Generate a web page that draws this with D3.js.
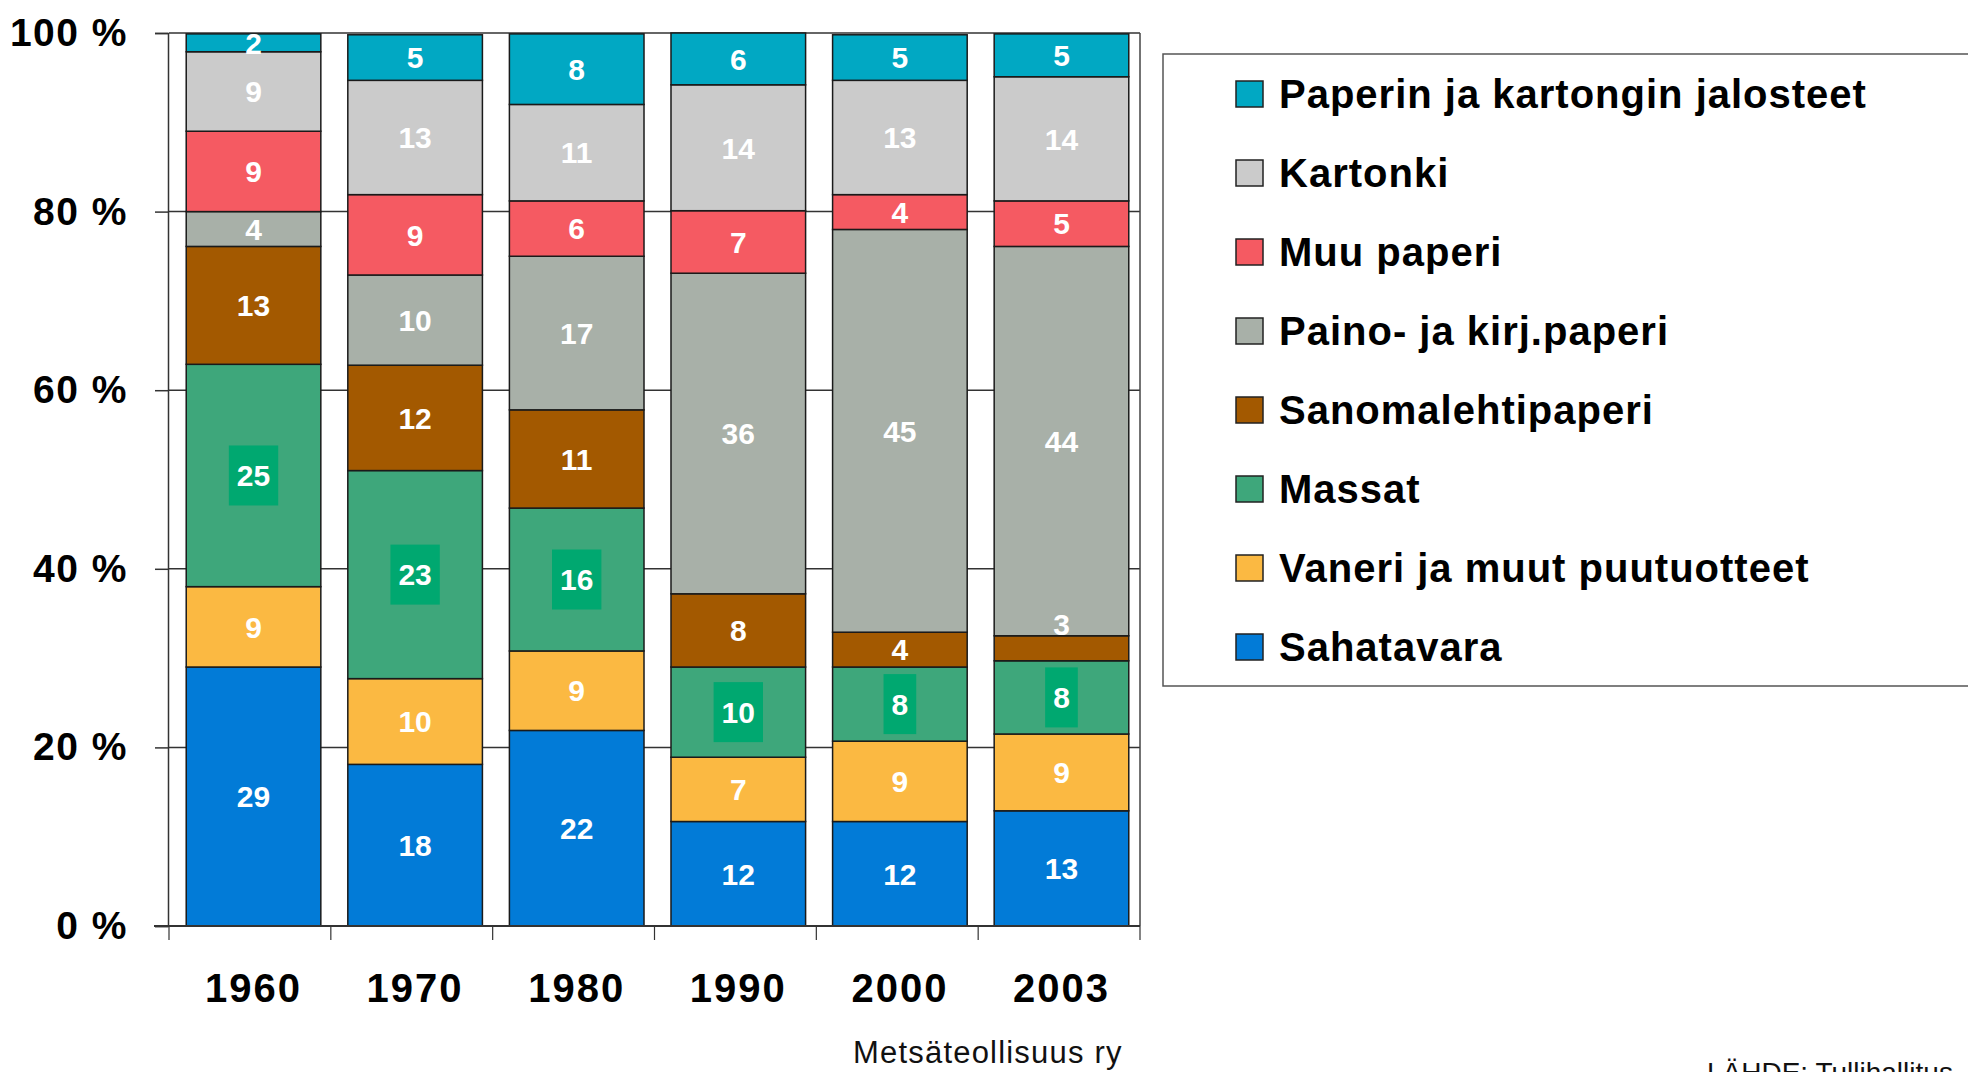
<!DOCTYPE html>
<html>
<head>
<meta charset="utf-8">
<script src="https://cdn.jsdelivr.net/npm/d3@7"></script>
<style>
  body { margin: 0; background: #fff; }
  svg { display: block; font-family: "Liberation Sans", Arial, sans-serif; }
</style>
</head>
<body>
<svg id="chart" width="1968" height="1072"></svg>
<script>
// --- data (shares in %) ---
const years = ["1960", "1970", "1980", "1990", "2000", "2003"];
const seriesNames = [
    "Sahatavara",
    "Vaneri ja muut puutuotteet",
    "Massat",
    "Sanomalehtipaperi",
    "Paino- ja kirj.paperi",
    "Muu paperi",
    "Kartonki",
    "Paperin ja kartongin jalosteet"
];
const sahatavara  = [29.0, 18.1, 21.9, 11.7, 11.7, 12.9];
const vaneri      = [9.0, 9.6, 8.9, 7.2, 9.0, 8.6];
const massat      = [24.9, 23.3, 16.0, 10.1, 8.3, 8.2];
const sanomalehti = [13.2, 11.8, 11.0, 8.2, 3.9, 2.8];
const paino       = [3.9, 10.1, 17.2, 35.9, 45.1, 43.6];
const muuPaperi   = [9.0, 9.0, 6.2, 7.0, 3.9, 5.1];
const kartonki    = [8.9, 12.8, 10.8, 14.1, 12.8, 13.9];
const jalosteet   = [2.0, 5.1, 7.9, 5.8, 5.1, 4.8];
const yTicks = [0, 20, 40, 60, 80, 100];

const colors = ["#027bd7", "#fbb942", "#3ea77b", "#a35900", "#a8b0a8", "#f55a62", "#cbcbcb", "#01a8c3"];

// build table for d3.stack
const seriesValues = [sahatavara, vaneri, massat, sanomalehti, paino, muuPaperi, kartonki, jalosteet];
const table = years.map((yr, i) => {
    const row = { year: yr };
    seriesNames.forEach((s, j) => row[s] = seriesValues[j][i]);
    return row;
});

const svg = d3.select("#chart");
const plotLeft = 169, plotRight = 1140, plotTop = 33, plotBottom = 926;

// bars sit a touch right of the category cells in the original
const x = d3.scaleBand().domain(years).range([plotLeft + 3, plotRight + 3]).paddingInner(0.167).paddingOuter(0.088);
const xEdge = d3.scaleLinear().domain([0, years.length]).range([plotLeft, plotRight]);
const y = d3.scaleLinear().domain([0, 100]).range([plotBottom, plotTop]);
const color = d3.scaleOrdinal().domain(seriesNames).range(colors);

// --- grid + frame ---
svg.append("g")
    .selectAll("line")
    .data(yTicks.filter(d => d > 0))
    .join("line")
    .attr("x1", plotLeft).attr("x2", plotRight)
    .attr("y1", d => y(d)).attr("y2", d => y(d))
    .attr("stroke", "#333").attr("stroke-width", 1.5);

svg.append("line")
    .attr("x1", plotRight).attr("x2", plotRight)
    .attr("y1", plotTop).attr("y2", plotBottom)
    .attr("stroke", "#444").attr("stroke-width", 1.5);

// --- bars ---
const stacked = d3.stack().keys(seriesNames)(table);

const layers = svg.append("g")
    .selectAll("g")
    .data(stacked)
    .join("g")
    .attr("fill", d => color(d.key));

layers.selectAll("rect")
    .data(d => d)
    .join("rect")
    .attr("x", d => x(d.data.year))
    .attr("width", x.bandwidth())
    .attr("y", d => y(d[1]))
    .attr("height", d => y(d[0]) - y(d[1]))
    .attr("stroke", "#1a1a1a")
    .attr("stroke-width", 1.5);

// --- value labels ---
const labelG = svg.append("g");
stacked.forEach((layer, li) => {
    layer.forEach(d => {
        const v = d[1] - d[0];
        const cx = x(d.data.year) + x.bandwidth() / 2;
        let cy = (y(d[0]) + y(d[1])) / 2;
        // too thin to hold its label: put it just above the segment
        if (v < 3 && li < stacked.length - 1) cy = y(d[1]) - 12;

        const t = labelG.append("text")
            .attr("x", cx)
            .attr("y", cy)
            .attr("dy", "0.36em")
            .attr("text-anchor", "middle")
            .attr("fill", "#fff")
            .attr("font-size", "30px")
            .attr("font-weight", "bold")
            .text(Math.round(v));

        if (layer.key === "Massat") {
            const w = t.node().getComputedTextLength() + 16;
            labelG.insert("rect", () => t.node())
                .attr("x", cx - w / 2)
                .attr("y", cy - 30)
                .attr("width", w)
                .attr("height", 60)
                .attr("fill", "#00a870");
        }
    });
});

// --- y axis ---
const yAxis = svg.append("g")
    .attr("transform", `translate(${plotLeft - 1},0)`)
    .call(d3.axisLeft(y).tickValues(yTicks).tickSize(13).tickPadding(27).tickFormat(d => d + " %"));
yAxis.select(".domain").attr("stroke", "#333").attr("stroke-width", 1.5);
yAxis.selectAll(".tick line").attr("stroke", "#333").attr("stroke-width", 1.5);
yAxis.selectAll("text")
    .attr("fill", "#000")
    .attr("font-size", "39px")
    .attr("font-weight", "bold")
    .attr("letter-spacing", "1.5px")
    .attr("font-family", "Liberation Sans, Arial, sans-serif");

// --- x axis (ticks at category edges) ---
svg.append("line")
    .attr("x1", plotLeft - 15).attr("x2", plotRight)
    .attr("y1", plotBottom).attr("y2", plotBottom)
    .attr("stroke", "#333").attr("stroke-width", 2);

svg.append("g")
    .selectAll("line")
    .data(d3.range(years.length + 1))
    .join("line")
    .attr("x1", d => xEdge(d)).attr("x2", d => xEdge(d))
    .attr("y1", plotBottom).attr("y2", plotBottom + 14)
    .attr("stroke", "#333").attr("stroke-width", 1.2);

svg.append("g")
    .selectAll("text")
    .data(years)
    .join("text")
    .attr("x", d => x(d) + x.bandwidth() / 2)
    .attr("y", 1002)
    .attr("text-anchor", "middle")
    .attr("font-size", "40px")
    .attr("font-weight", "bold")
    .attr("letter-spacing", "2px")
    .text(d => d);

// --- legend ---
const legend = svg.append("g");
legend.append("rect")
    .attr("x", 1163).attr("y", 54)
    .attr("width", 900).attr("height", 632)
    .attr("fill", "#fff")
    .attr("stroke", "#555").attr("stroke-width", 1.5);

const legendItems = legend.selectAll("g.item")
    .data(seriesNames.slice().reverse())
    .join("g")
    .attr("class", "item")
    .attr("transform", (d, i) => `translate(1236,${94 + i * 79})`);

legendItems.append("rect")
    .attr("x", 0).attr("y", -13)
    .attr("width", 27).attr("height", 26)
    .attr("fill", d => color(d))
    .attr("stroke", "#222").attr("stroke-width", 1.5);

legendItems.append("text")
    .attr("x", 43)
    .attr("dy", "0.36em")
    .attr("font-size", "40px")
    .attr("font-weight", "bold")
    .attr("letter-spacing", "1px")
    .text(d => d);

// --- footer texts ---
svg.append("text")
    .attr("x", 853).attr("y", 1063)
    .attr("font-size", "31px")
    .attr("letter-spacing", "1.2px")
    .attr("fill", "#111")
    .text("Metsäteollisuus ry");

svg.append("text")
    .attr("x", 1707).attr("y", 1082)
    .attr("font-size", "28px")
    .attr("fill", "#111")
    .text("LÄHDE: Tullihallitus");
</script>
</body>
</html>
